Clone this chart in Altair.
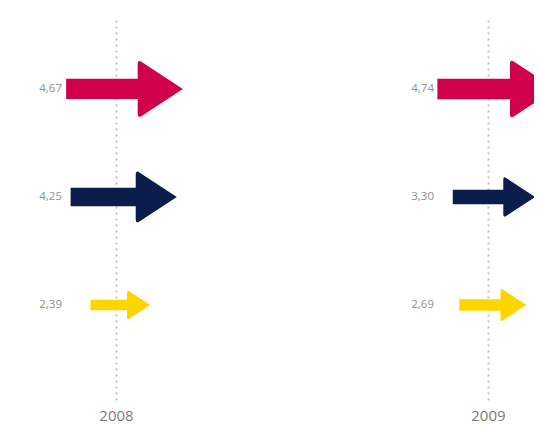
import altair as alt
import pandas as pd

# ---- data -------------------------------------------------------------
years = ["2008", "2009"]
series = ["Série 1", "Série 2", "Série 3"]
values_2008 = [4.67, 4.25, 2.39]
values_2009 = [4.74, 3.30, 2.69]
colors = ["#D0004B", "#0A1D4C", "#FFD500"]

rows = []
for yr, vals in zip(years, [values_2008, values_2009]):
    for s, v in zip(series, vals):
        rows.append({"year": yr, "series": s, "value": v})
df = pd.DataFrame(rows)

FONT = "Segoe UI, Open Sans, Noto Sans, sans-serif"

# arrow symbol (custom SVG path, head height spans [-1,1])
ARROW = ("M -1.72 -0.35 L 0.75 -0.35 L 0.75 -0.86 Q 0.75 -1.02 0.89 -0.93 "
         "L 2.31 0 L 0.89 0.93 Q 0.75 1.02 0.75 0.86 L 0.75 0.35 L -1.72 0.35 Z")

x_enc = alt.X(
    "year:N",
    sort=years,
    scale=alt.Scale(type="point", padding=0.207, align=0.701),
    axis=alt.Axis(
        title=None, domain=False, ticks=False, labelAngle=0,
        labelFontSize=15, labelColor="#7a7a7a", labelFont=FONT,
        labelPadding=8,
        grid=True, gridDash=[2, 4], gridColor="#c2c2c2", gridWidth=2,
    ),
)
y_enc = alt.Y(
    "series:N",
    sort=series,
    scale=alt.Scale(type="point", padding=0.773, align=0.431),
    axis=None,
)

base = alt.Chart(df)

arrows = base.mark_point(
    shape=ARROW, filled=True, opacity=1, strokeWidth=0, clip=True
).encode(
    x=x_enc,
    y=y_enc,
    color=alt.Color("series:N", scale=alt.Scale(domain=series, range=colors), legend=None),
    size=alt.Size("value:Q", scale=alt.Scale(type="pow", exponent=2, domain=[0, 5], range=[0, 3844]), legend=None),
)

labels = base.transform_calculate(
    label="replace(format(datum.value, '.2f'), '.', ',')"
).mark_text(
    align="right", baseline="middle", dx=-54, fontSize=11.5,
    color="#8f8f8f", font=FONT,
).encode(
    x=x_enc,
    y=y_enc,
    text="label:N",
)

chart = alt.layer(arrows, labels).properties(
    width=526, height=383,
    padding={"left": 0, "top": 9, "right": 0, "bottom": 0},
).configure_view(stroke=None)

chart.save("out.html", embed_options={"renderer": "svg", "actions": False})
